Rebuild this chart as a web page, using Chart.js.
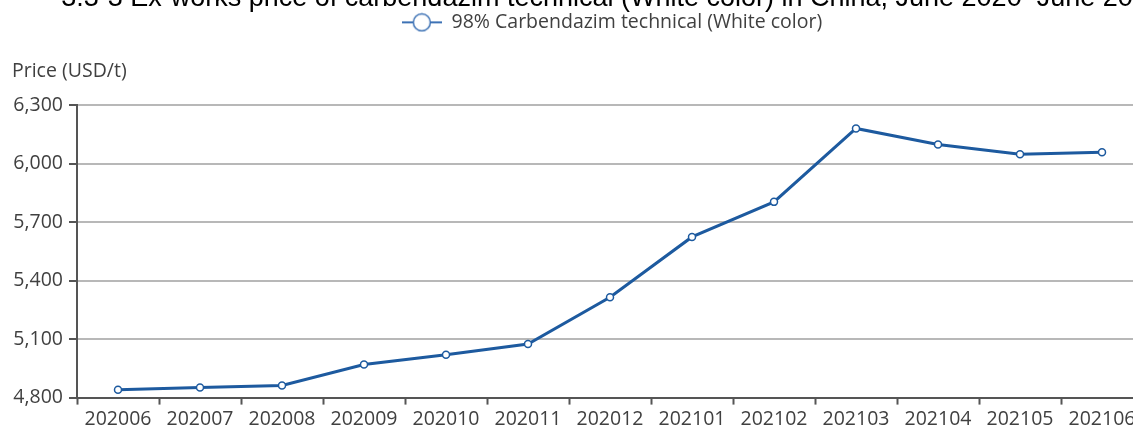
<!DOCTYPE html>
<html>
<head>
<meta charset="utf-8">
<script src="https://cdn.jsdelivr.net/npm/chart.js@4"></script>
<style>
  html, body { margin: 0; padding: 0; background: #fff; overflow: hidden; }
  #wrap { position: absolute; left: 0; top: -14px; width: 1212px; height: 448px; }
</style>
</head>
<body>
<div id="wrap"><canvas id="chart"></canvas></div>
<script>
// months shown on the x axis
const months = ['202006', '202007', '202008', '202009', '202010', '202011', '202012',
  '202101', '202102', '202103', '202104', '202105', '202106'];
// ex-works price, USD/t
const prices = [4840, 4852, 4862, 4970, 5020, 5075, 5315, 5625, 5805, 6182, 6100, 6050, 6060];
const yTicks = [4800, 5100, 5400, 5700, 6000, 6300];

const seriesName = '98% Carbendazim technical (White color)';
const titleText = '3.3-3 Ex-works price of carbendazim technical (White color) in China, June 2020\u2013June 2021';
const yTitleText = 'Price (USD/t)';
const blue = '#1d5a9f';
const font = "'Open Sans', sans-serif";

// legend marker: short line with a hollow circle
const marker = document.createElement('canvas');
marker.width = 40; marker.height = 20;
(function () {
  const m = marker.getContext('2d');
  m.strokeStyle = '#3d72b5';
  m.lineWidth = 2;
  m.beginPath(); m.moveTo(0, 10); m.lineTo(40, 10); m.stroke();
  m.fillStyle = '#fff';
  m.lineWidth = 1.5;
  m.beginPath(); m.arc(20, 10, 8.5, 0, Math.PI * 2); m.fill(); m.stroke();
})();

new Chart(document.getElementById('chart'), {
  type: 'line',
  data: {
    labels: months,
    datasets: [{
      label: seriesName,
      data: prices,
      borderColor: blue,
      borderWidth: 3,
      pointRadius: 3.5,
      pointBorderWidth: 1.5,
      pointBackgroundColor: '#fff',
      pointBorderColor: blue,
      tension: 0
    }]
  },
  options: {
    responsive: true,
    maintainAspectRatio: false,
    animation: false,
    layout: { padding: { left: 12, right: 0, top: 0, bottom: 0 } },
    plugins: {
      title: {
        display: true,
        text: titleText,
        color: '#000',
        font: { family: "'Liberation Sans', Arial, sans-serif", size: 27, weight: 'normal', lineHeight: 0.91 },
        padding: { top: 0, bottom: 0 }
      },
      // axis caption sits under the legend, left aligned
      subtitle: {
        display: true,
        text: yTitleText,
        align: 'start',
        position: 'top',
        weight: 500,
        color: '#404040',
        font: { family: font, size: 19.5, weight: 'normal', lineHeight: 1.2 },
        padding: { top: 18, bottom: 22 }
      },
      legend: {
        display: true,
        labels: {
          usePointStyle: true,
          pointStyle: marker,
          pointStyleWidth: 40,
          color: '#404040',
          font: { family: font, size: 19.5 },
          padding: 2
        }
      },
      tooltip: { enabled: false }
    },
    scales: {
      x: {
        offset: true,
        grid: {
          offset: true,
          drawOnChartArea: false,
          drawTicks: true,
          tickLength: 7,
          tickColor: '#555',
          tickWidth: 2
        },
        border: { color: '#555', width: 2 },
        ticks: {
          color: '#404040',
          font: { family: font, size: 19.5 },
          maxRotation: 0,
          autoSkip: false,
          padding: 3
        }
      },
      y: {
        min: 4800,
        max: 6300,
        afterBuildTicks(scale) {
          scale.ticks = yTicks.map(v => ({ value: v }));
        },
        afterFit(scale) { scale.width = 65; },
        grid: {
          color: '#b8b8b8',
          lineWidth: 2,
          tickColor: '#555',
          tickLength: 8,
          tickWidth: 2
        },
        border: { color: '#555', width: 2 },
        ticks: {
          color: '#404040',
          font: { family: font, size: 19.5 },
          padding: 6,
          callback: v => v.toLocaleString('en-US')
        }
      },
      // empty right-hand axis, only reserves the margin past the plot
      yRight: {
        position: 'right',
        min: 4800,
        max: 6300,
        afterFit(scale) { scale.width = 69; },
        grid: { display: false },
        border: { display: false },
        ticks: { display: false }
      }
    }
  }
});
</script>
</body>
</html>
